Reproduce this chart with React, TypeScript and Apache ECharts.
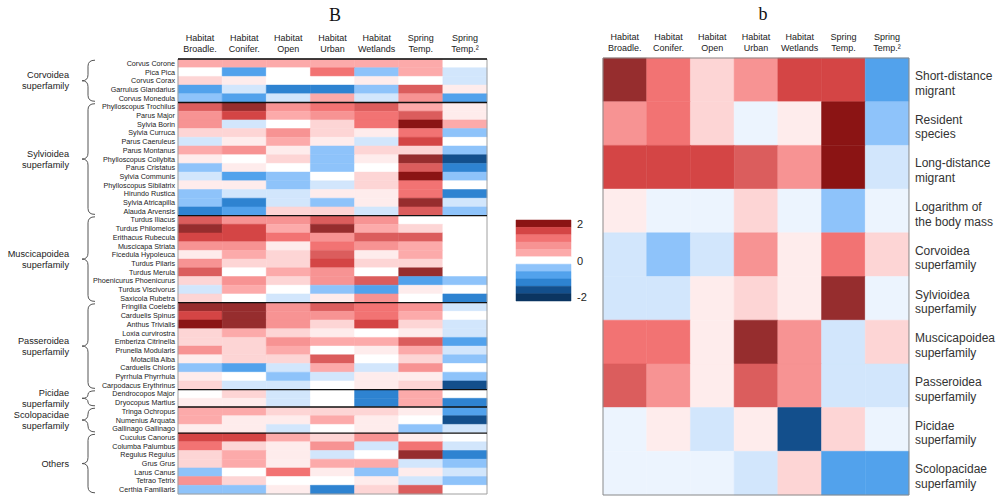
import React, { useEffect, useRef } from 'react';
import * as echarts from 'echarts';

const FONT = '"Liberation Sans", Arial, Helvetica, sans-serif';

const columns = [
  'Habitat\nBroadle.',
  'Habitat\nConifer.',
  'Habitat\nOpen',
  'Habitat\nUrban',
  'Habitat\nWetlands',
  'Spring\nTemp.',
  'Spring\nTemp.²',
];

// values per species: Broadle., Conifer., Open, Urban, Wetlands, Spring Temp., Spring Temp.²
const corvoideaSpecies = ['Corvus Corone', 'Pica Pica', 'Corvus Corax', 'Garrulus Glandarius', 'Corvus Monedula'];
const corvoideaValues = [
  [0.9, 0.9, 0.9, 0.9, 0.9, 0.9, 0],
  [0, -1.4, 0, 1.4, -1.0, 0.9, -0.6],
  [0.6, 0.3, 0, 0, 0.3, 0, -0.6],
  [-1.4, -0.6, -1.8, -1.8, -1.0, 1.6, 0.3],
  [-1.0, -1.4, -0.6, 0.9, -0.6, 1.2, -1.4],
];

const sylvioideaSpecies = [
  'Phylloscopus Trochilus', 'Parus Major', 'Sylvia Borin', 'Sylvia Curruca', 'Parus Caeruleus',
  'Parus Montanus', 'Phylloscopus Collybita', 'Parus Cristatus', 'Sylvia Communis',
  'Phylloscopus Sibilatrix', 'Hirundo Rustica', 'Sylvia Atricapilla', 'Alauda Arvensis',
];
const sylvioideaValues = [
  [1.6, 2.1, 1.2, 1.4, 1.6, 0.9, 0.3],
  [1.2, 1.8, 0.9, 1.2, 1.4, 1.6, 0.3],
  [1.2, -0.6, 0, 0.6, 1.4, 2.4, 0.9],
  [0.6, 0.6, 1.2, 0.6, 0.3, 1.4, -1.0],
  [-0.6, 0.3, 0.9, 0.3, -0.6, 1.8, 0],
  [0.9, 1.2, 0.3, -1.0, 0.6, 0.6, -1.0],
  [0.3, 0, 0.6, -1.0, 0.3, 2.1, -2.1],
  [-1.0, 0.3, 0, -1.0, 0, 1.6, -1.8],
  [-0.6, -1.4, -1.0, 0, 0.6, 2.4, -1.0],
  [0.3, 0.3, -1.0, -0.6, 0.6, 1.4, 0],
  [-1.0, -0.6, -0.6, 0.3, 0.3, 1.4, -1.8],
  [-1.0, -1.8, -0.6, -1.0, 0.3, 2.1, -0.6],
  [-1.8, -1.4, 0.6, 0.6, -0.6, 1.6, -1.0],
];

const muscicapoideaSpecies = [
  'Turdus Iliacus', 'Turdus Philomelos', 'Erithacus Rubecula', 'Muscicapa Striata', 'Ficedula Hypoleuca',
  'Turdus Pilaris', 'Turdus Merula', 'Phoenicurus Phoenicurus', 'Turdus Viscivorus', 'Saxicola Rubetra',
];
const muscicapoideaValues = [
  [1.6, 1.2, 1.2, 1.6, 1.2, 0, 0],
  [2.1, 1.8, 0.9, 2.1, 0.9, 0.6, 0],
  [1.8, 1.8, 1.4, 1.2, 1.6, 1.6, 0],
  [1.2, 1.2, 0.3, 1.4, 1.2, 0.9, 0],
  [0.3, 0.9, 0.6, 1.6, 0.3, 0.9, 0],
  [1.2, 0.6, 0.6, 1.8, 0.6, 0.6, 0],
  [1.6, 0, 0.9, 1.2, 0, 2.1, 0],
  [0.6, 1.2, 0.6, 1.2, 1.6, -1.4, -1.0],
  [-0.6, 0.9, 0, -1.0, -1.4, 0.3, 0],
  [0.6, 0, -0.6, 0.3, 1.2, 0, -1.8],
];

const passeroideaSpecies = [
  'Fringilla Coelebs', 'Carduelis Spinus', 'Anthus Trivialis', 'Loxia curvirostra', 'Emberiza Citrinella',
  'Prunella Modularis', 'Motacilla Alba', 'Carduelis Chloris', 'Pyrrhula Phyrrhula', 'Carpodacus Erythrinus',
];
const passeroideaValues = [
  [2.1, 2.1, 1.2, 1.6, 1.4, 1.2, -0.6],
  [1.8, 2.1, 1.2, 1.2, 1.4, 0.9, 0],
  [2.4, 2.1, 1.2, 0.6, 1.8, 0.6, -0.6],
  [0.6, 0.9, 0.6, 0.3, 0, 0.3, -0.6],
  [0.6, 0.6, 1.2, 0.9, 0.9, 1.6, -1.4],
  [1.2, 0.6, 0.9, 0, 0.3, 0.9, -0.6],
  [0.3, 0.6, 0.6, 1.6, 0, 0.6, -1.0],
  [-1.0, -1.4, -0.6, 0.9, -0.6, 1.2, 0],
  [0.3, 0, -1.0, -0.6, 0.3, 0.3, -1.0],
  [0.6, -0.6, -0.6, 0, 0.3, 0.6, -2.1],
];

const picidaeSpecies = ['Dendrocopos Major', 'Dryocopus Martius'];
const picidaeValues = [
  [0, 0.6, -0.6, 0, -1.8, 0.9, 0],
  [0.3, 0.3, -0.6, 0, -1.8, 0.9, -1.8],
];

const scolopacidaeSpecies = ['Tringa Ochropus', 'Numenius Arquata', 'Gallinago Gallinago'];
const scolopacidaeValues = [
  [0.9, 0.9, 0.6, 0.6, 0.6, 0.3, -1.4],
  [0.9, 0.3, 0.3, 0.9, 0.3, 0, -2.1],
  [0.3, 0.3, -0.6, 0, 0.3, -1.0, -0.6],
];

const othersSpecies = [
  'Cuculus Canorus', 'Columba Palumbus', 'Regulus Regulus', 'Grus Grus', 'Larus Canus', 'Tetrao Tetrix',
  'Certhia Familiaris',
];
const othersValues = [
  [1.8, 1.8, 0.9, 0.6, 1.2, 0.3, 0],
  [1.4, 0.6, 0.3, 1.2, -0.6, 1.4, -0.6],
  [0.6, 0.9, 0.3, -0.6, 0, 2.1, -1.8],
  [0.6, 0.9, 0.3, 0.9, 0.9, -0.6, -1.0],
  [-1.0, 0, 1.4, 0.3, -1.0, 0.3, -0.6],
  [1.2, 0.6, 0, 0, 0.3, -0.6, -1.0],
  [-1.0, -1.0, 0.3, -1.8, 0.6, 1.6, 0],
];

const groups = [
  { label: 'Corvoidea\nsuperfamily', species: corvoideaSpecies, values: corvoideaValues },
  { label: 'Sylvioidea\nsuperfamily', species: sylvioideaSpecies, values: sylvioideaValues },
  { label: 'Muscicapoidea\nsuperfamily', species: muscicapoideaSpecies, values: muscicapoideaValues },
  { label: 'Passeroidea\nsuperfamily', species: passeroideaSpecies, values: passeroideaValues },
  { label: 'Picidae\nsuperfamily', species: picidaeSpecies, values: picidaeValues },
  { label: 'Scolopacidae\nsuperfamily', species: scolopacidaeSpecies, values: scolopacidaeValues },
  { label: 'Others', species: othersSpecies, values: othersValues },
];

const traitLabels = [
  'Short-distance\nmigrant',
  'Resident\nspecies',
  'Long-distance\nmigrant',
  'Logarithm of\nthe body mass',
  'Corvoidea\nsuperfamily',
  'Sylvioidea\nsuperfamily',
  'Muscicapoidea\nsuperfamily',
  'Passeroidea\nsuperfamily',
  'Picidae\nsuperfamily',
  'Scolopacidae\nsuperfamily',
];
const traitValues = [
  [2.1, 1.4, 0.6, 1.2, 1.8, 1.8, -1.4],
  [1.2, 1.4, 0.6, -0.3, 0.3, 2.4, -1.0],
  [1.8, 1.8, 1.8, 1.6, 1.2, 2.4, -0.6],
  [0.3, -0.3, -0.3, 0.6, -0.3, -1.0, -0.3],
  [-0.6, -1.0, -0.6, 1.2, 0.3, 1.4, 0.6],
  [-0.6, -0.6, 0.3, 0.6, 0.3, 2.1, -0.3],
  [1.4, 1.4, 0.3, 2.1, 1.2, -0.6, 0.6],
  [1.6, 1.2, 0.3, 1.6, 1.2, -0.6, -0.6],
  [-0.3, 0.3, -0.6, 0.3, -2.1, 0.6, -0.3],
  [-0.3, -0.3, -0.3, -0.6, 0.6, -1.4, -1.4],
];

const colorbarValues = [2.4, 1.8, 1.4, 1.2, 0.9, 0, -1.0, -1.4, -1.8, -2.1, -2.4];
const colorbarTickLabels = ['2', '', '', '', '', '0', '', '', '', '', '-2'];

const pieces = [
  { gte: 2.3, color: '#8b1414' },
  { gte: 2.0, lt: 2.3, color: '#962d2e' },
  { gte: 1.7, lt: 2.0, color: '#d44545' },
  { gte: 1.5, lt: 1.7, color: '#db5d5d' },
  { gte: 1.3, lt: 1.5, color: '#f27373' },
  { gte: 1.05, lt: 1.3, color: '#f79393' },
  { gte: 0.75, lt: 1.05, color: '#fcaaaa' },
  { gte: 0.45, lt: 0.75, color: '#fdd5d5' },
  { gte: 0.15, lt: 0.45, color: '#feecec' },
  { gt: -0.15, lt: 0.15, color: '#ffffff' },
  { gt: -0.45, lte: -0.15, color: '#ecf4fe' },
  { gt: -0.8, lte: -0.45, color: '#d2e6fc' },
  { gt: -1.2, lte: -0.8, color: '#8ec3fa' },
  { gt: -1.6, lte: -1.2, color: '#52a2ec' },
  { gt: -1.95, lte: -1.6, color: '#2e83d1' },
  { gt: -2.25, lte: -1.95, color: '#134f8c' },
  { lte: -2.25, color: '#0b3561' },
];

// draws one cell through the axes' scales; colour comes from the visualMap
const renderCell = (_params: any, api: any) => {
  const c = api.coord([api.value(0), api.value(1)]);
  const s = api.size([1, 1]);
  const color = api.visual('color');
  return {
    type: 'rect',
    shape: { x: c[0] - s[0] / 2, y: c[1] - s[1] / 2, width: s[0], height: s[1] },
    style: { fill: color, stroke: color, lineWidth: 0.5 },
  };
};

export default function App() {
  const ref = useRef<HTMLDivElement>(null);

  useEffect(() => {
    if (!ref.current) return;
    const chart = echarts.init(ref.current, null, { renderer: 'svg' });

    const species: string[] = [];
    const leftData: number[][] = [];
    const groupRanges: number[][] = [];
    groups.forEach((g) => {
      const start = species.length;
      g.species.forEach((s, i) => {
        const r = species.length;
        species.push(s);
        g.values[i].forEach((v, c) => leftData.push([c, r, v]));
      });
      groupRanges.push([0, start, species.length - 1]);
    });
    const boundaries = groupRanges.map((g) => [0, g[1]]);

    const rightData: number[][] = [];
    traitValues.forEach((row, r) => row.forEach((v, c) => rightData.push([c, r, v])));

    const cbData = colorbarValues.map((v, i) => [0, i, v]);

    const headerLabel = {
      interval: 0,
      fontSize: 9,
      lineHeight: 11.6,
      margin: 4,
      color: '#222',
      fontFamily: FONT,
    };

    const option: any = {
      animation: false,
      backgroundColor: '#ffffff',
      textStyle: { fontFamily: FONT },
      graphic: [
        {
          type: 'text',
          x: 335,
          y: 15,
          style: {
            text: 'B',
            fontSize: 18,
            fontFamily: '"Liberation Serif", "Times New Roman", serif',
            fill: '#111',
            align: 'center',
            verticalAlign: 'middle',
          },
        },
        {
          type: 'text',
          x: 763,
          y: 14,
          style: {
            text: 'b',
            fontSize: 18,
            fontFamily: '"Liberation Serif", "Times New Roman", serif',
            fill: '#111',
            align: 'center',
            verticalAlign: 'middle',
          },
        },
      ],
      visualMap: {
        type: 'piecewise',
        show: false,
        dimension: 2,
        seriesIndex: [0, 2, 4],
        pieces,
      },
      grid: [
        { left: 178, top: 59, width: 309, height: 435 },
        { left: 603, top: 58, width: 309, height: 437 },
        { left: 516, top: 220, width: 55, height: 81 },
      ],
      xAxis: [
        {
          gridIndex: 0,
          type: 'category',
          data: columns,
          position: 'top',
          axisLine: { show: false },
          axisTick: { show: false },
          splitLine: { show: false },
          axisLabel: headerLabel,
        },
        {
          gridIndex: 1,
          type: 'category',
          data: columns,
          position: 'top',
          axisLine: { show: false },
          axisTick: { show: false },
          splitLine: { show: false },
          axisLabel: headerLabel,
        },
        { gridIndex: 2, type: 'category', data: [''], show: false },
      ],
      yAxis: [
        {
          gridIndex: 0,
          type: 'category',
          data: species,
          inverse: true,
          axisLine: { show: false },
          axisTick: { show: false },
          splitLine: { show: false },
          axisLabel: { interval: 0, fontSize: 7.2, margin: 3, color: '#222', fontFamily: FONT },
        },
        {
          gridIndex: 1,
          type: 'category',
          data: traitLabels,
          inverse: true,
          position: 'right',
          axisLine: { show: false },
          axisTick: { show: false },
          splitLine: { show: false },
          axisLabel: {
            interval: 0,
            margin: 6,
            formatter: (v: string) =>
              '{s| }\n' + v.split('\n').map((line) => `{t|${line}}`).join('\n'),
            rich: {
              s: { fontSize: 2, lineHeight: 7 },
              t: { fontSize: 12, lineHeight: 14.7, color: '#333', fontFamily: FONT },
            },
          },
        },
        {
          gridIndex: 2,
          type: 'category',
          data: colorbarValues.map(String),
          inverse: true,
          position: 'right',
          axisLine: { show: false },
          axisTick: { show: false },
          splitLine: { show: false },
          axisLabel: {
            interval: 0,
            fontSize: 11,
            margin: 6,
            color: '#222',
            fontFamily: FONT,
            formatter: (_v: string, i: number) => colorbarTickLabels[i],
          },
        },
      ],
      series: [
        {
          type: 'custom',
          xAxisIndex: 0,
          yAxisIndex: 0,
          silent: true,
          data: leftData,
          encode: { x: 0, y: 1 },
          renderItem: renderCell,
        },
        {
          type: 'custom',
          xAxisIndex: 0,
          yAxisIndex: 0,
          clip: false,
          z: 10,
          silent: true,
          data: boundaries,
          encode: { x: 0, y: 1 },
          renderItem: (params: any, api: any) => {
            const cs = params.coordSys;
            const h = api.size([1, 1])[1];
            const y = api.coord([0, api.value(1)])[1] - h / 2;
            const line = {
              type: 'line',
              shape: { x1: cs.x, y1: y, x2: cs.x + cs.width, y2: y },
              style: { stroke: '#111', lineWidth: 1.4 },
            };
            if (params.dataIndex === 0) {
              return {
                type: 'group',
                children: [
                  {
                    type: 'rect',
                    shape: { x: cs.x, y: cs.y, width: cs.width, height: cs.height },
                    style: { stroke: '#a0a0a0', fill: 'none', lineWidth: 1 },
                  },
                  line,
                ],
              };
            }
            return line;
          },
        },
        {
          type: 'custom',
          xAxisIndex: 1,
          yAxisIndex: 1,
          silent: true,
          data: rightData,
          encode: { x: 0, y: 1 },
          renderItem: renderCell,
        },
        {
          type: 'custom',
          xAxisIndex: 1,
          yAxisIndex: 1,
          clip: false,
          z: 10,
          silent: true,
          data: [[0, 0]],
          encode: { x: 0, y: 1 },
          renderItem: (params: any) => {
            const cs = params.coordSys;
            return {
              type: 'rect',
              shape: { x: cs.x, y: cs.y, width: cs.width, height: cs.height },
              style: { stroke: '#8a8a8a', fill: 'none', lineWidth: 1 },
            };
          },
        },
        {
          type: 'custom',
          xAxisIndex: 2,
          yAxisIndex: 2,
          silent: true,
          data: cbData,
          encode: { x: 0, y: 1 },
          renderItem: renderCell,
        },
        {
          type: 'custom',
          xAxisIndex: 0,
          yAxisIndex: 0,
          clip: false,
          z: 10,
          silent: true,
          data: groupRanges,
          encode: { x: 0, y: 1 },
          renderItem: (params: any, api: any) => {
            const cs = params.coordSys;
            const h = api.size([1, 1])[1];
            const y1 = api.coord([0, api.value(1)])[1] - h / 2 + 1.2;
            const y2 = api.coord([0, api.value(2)])[1] + h / 2 - 1.2;
            const xt = cs.x - 83;
            const xs = cs.x - 90;
            const xm = cs.x - 96;
            const ym = (y1 + y2) / 2;
            const r = Math.min(6, (y2 - y1) / 4);
            const d =
              `M${xt},${y1} Q${xs},${y1} ${xs},${y1 + r} L${xs},${ym - r} ` +
              `Q${xs},${ym} ${xm},${ym} Q${xs},${ym} ${xs},${ym + r} ` +
              `L${xs},${y2 - r} Q${xs},${y2} ${xt},${y2}`;
            return {
              type: 'group',
              children: [
                {
                  type: 'path',
                  shape: { pathData: d },
                  style: { stroke: '#555', fill: 'none', lineWidth: 1 },
                },
                {
                  type: 'text',
                  x: cs.x - 109,
                  y: ym,
                  style: {
                    text: groups[params.dataIndex].label,
                    fontSize: 9.2,
                    lineHeight: 11,
                    fontFamily: FONT,
                    fill: '#222',
                    align: 'right',
                    verticalAlign: 'middle',
                  },
                },
              ],
            };
          },
        },
      ],
    };

    chart.setOption(option);
    return () => chart.dispose();
  }, []);

  return (
    <div
      ref={ref}
      style={{ position: 'fixed', left: 0, top: 0, width: 998, height: 497, background: '#fff' }}
    />
  );
}
